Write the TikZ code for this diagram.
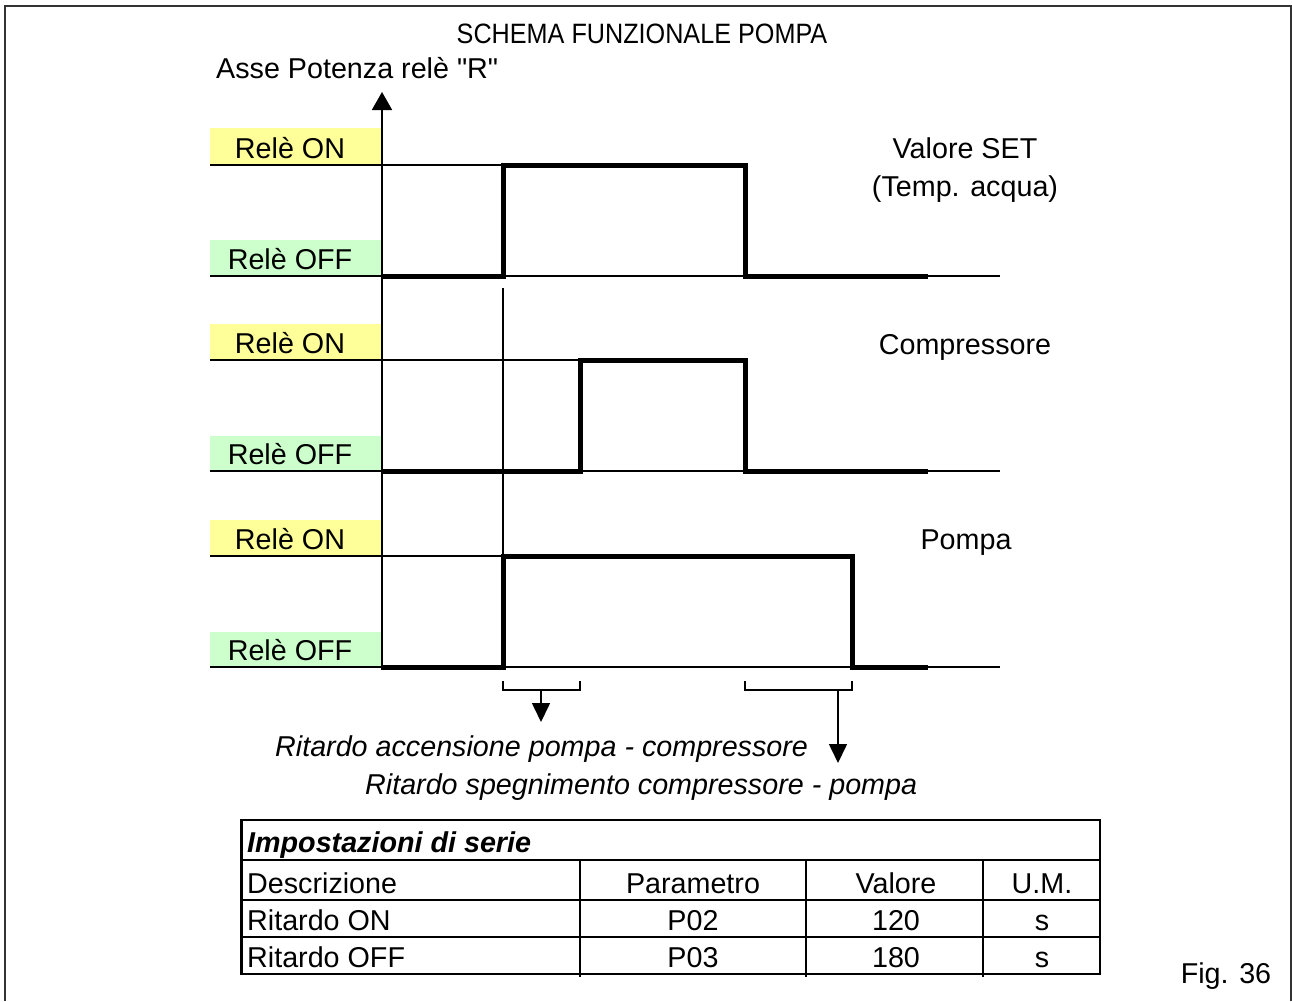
\documentclass[tikz,border=0pt]{standalone}
\usepackage{fontspec}
\setmainfont{Liberation Sans}
\newfontfamily\titlefont[FakeStretch=0.9]{Liberation Sans}
\newcommand\straightdq{\XeTeXglyph\XeTeXcharglyph"22\relax}
\usetikzlibrary{arrows.meta}
\definecolor{onyel}{HTML}{FFFF99}
\definecolor{offgrn}{HTML}{CCFFCC}
\definecolor{framegray}{HTML}{333333}
\begin{document}
\begin{tikzpicture}[x=1pt,y=-1pt,
  txt/.style={font=\fontsize{28.7}{30}\selectfont, inner sep=0pt, anchor=base},
  itxt/.style={font=\fontsize{28.7}{30}\selectfont\itshape, inner sep=0pt, anchor=base},
  thinln/.style={line width=1.8pt, black},
  sig/.style={line width=5pt, black, line join=miter, line cap=rect},
  onbox/.style={fill=onyel, draw=none},
  offbox/.style={fill=offgrn, draw=none},
  tabln/.style={line width=2pt, black},
  arr/.style={line width=1.6pt, -{Triangle[width=18pt,length=19pt]}}
]
\useasboundingbox (0,0) rectangle (1292,1001);
% frame
\draw[line width=2.2pt, framegray] (5,1001) -- (5,6) -- (1291,6) -- (1291,1001);

% title
\node[inner sep=0pt, anchor=base, font=\fontsize{28}{30}\selectfont\titlefont] (title) at (642,43) {SCHEMA FUNZIONALE POMPA};
\node[txt, anchor=base west] (axlabel) at (216,78) {Asse Potenza relè \straightdq R\straightdq};

% level boxes
\foreach \yo in {0,196,392}{
  \fill[onbox] (210,128+\yo) rectangle (382,165+\yo);
  \fill[offbox] (210,240+\yo) rectangle (382,276+\yo);
}
\node[txt] (on1) at (290,158) {Relè ON};
\node[txt] (off1) at (290,269) {Relè OFF};
\node[txt] (on2) at (290,353) {Relè ON};
\node[txt] (off2) at (290,464) {Relè OFF};
\node[txt] (on3) at (290,549) {Relè ON};
\node[txt] (off3) at (290,660) {Relè OFF};

% thin level lines
\draw[thinln] (210,165) -- (502,165);
\draw[thinln] (210,276) -- (1000,276);
\draw[thinln] (210,360) -- (580,360);
\draw[thinln] (210,471) -- (1000,471);
\draw[thinln] (210,556) -- (502,556);
\draw[thinln] (210,667) -- (1000,667);

% axis
\coordinate (axbot) at (382,667);
\coordinate (axtop) at (382,92);
\draw[line width=1.8pt, -{Triangle[width=20pt,length=18pt]}] (axbot) -- (axtop);

% guide line
\draw[line width=1.8pt] (503,288) -- (503,556);

% signals
\draw[sig] (383,276) -- (503,276) -- (503,165) -- (745,165) -- (745,276) -- (925,276);
\draw[sig] (383,471) -- (580,471) -- (580,360) -- (745,360) -- (745,471) -- (925,471);
\draw[sig] (383,667) -- (503,667) -- (503,556) -- (852,556) -- (852,667) -- (925,667);

% right labels
\node[txt] (set) at (965,158) {Valore SET};
\node[txt] (temp) at (965,196) {(Temp. acqua)};
\node[txt] (comp) at (965,354) {Compressore};
\node[txt] (pompa) at (966,549) {Pompa};

% brackets
\draw[line width=1.8pt] (503,681) -- (503,690) -- (580,690) -- (580,681);
\draw[line width=1.8pt] (745,681) -- (745,690) -- (852,690) -- (852,681);
\coordinate (b1) at (541,690);
\coordinate (b1t) at (541,722);
\coordinate (b2) at (838,690);
\coordinate (b2t) at (838,763);
\draw[arr] (b1) -- (b1t);
\draw[arr] (b2) -- (b2t);
\node[itxt, anchor=base west] (rit1) at (275,756) {Ritardo accensione pompa - compressore};
\node[itxt, anchor=base west] (rit2) at (365,794) {Ritardo spegnimento compressore - pompa};

% table
\draw[tabln] (240,820) -- (1100,820);
\draw[tabln] (240,860) -- (1100,860);
\draw[tabln] (240,900) -- (1100,900);
\draw[tabln] (240,937) -- (1100,937);
\draw[tabln] (240,974) -- (1100,974);
\draw[line width=3pt] (241.5,819) -- (241.5,975);
\draw[tabln] (1100,819) -- (1100,975);
\draw[tabln] (580,860) -- (580,977);
\draw[tabln] (806,860) -- (806,977);
\draw[tabln] (983,860) -- (983,977);
\node[txt, anchor=base west, font=\fontsize{28.7}{30}\selectfont\bfseries\itshape] (thead) at (247,852) {Impostazioni di serie};
\node[txt, anchor=base west] (c11) at (247,893) {Descrizione};
\node[txt] (c12) at (693,893) {Parametro};
\node[txt] (c13) at (896,893) {Valore};
\node[txt] (c14) at (1042,893) {U.M.};
\node[txt, anchor=base west] (c21) at (247,930) {Ritardo ON};
\node[txt] (c22) at (693,930) {P02};
\node[txt] (c23) at (896,930) {120};
\node[txt] (c24) at (1042,930) {s};
\node[txt, anchor=base west] (c31) at (247,967) {Ritardo OFF};
\node[txt] (c32) at (693,967) {P03};
\node[txt] (c33) at (896,967) {180};
\node[txt] (c34) at (1042,967) {s};

\node[txt] (fig) at (1226,983) {Fig. 36};
\end{tikzpicture}
\end{document}
